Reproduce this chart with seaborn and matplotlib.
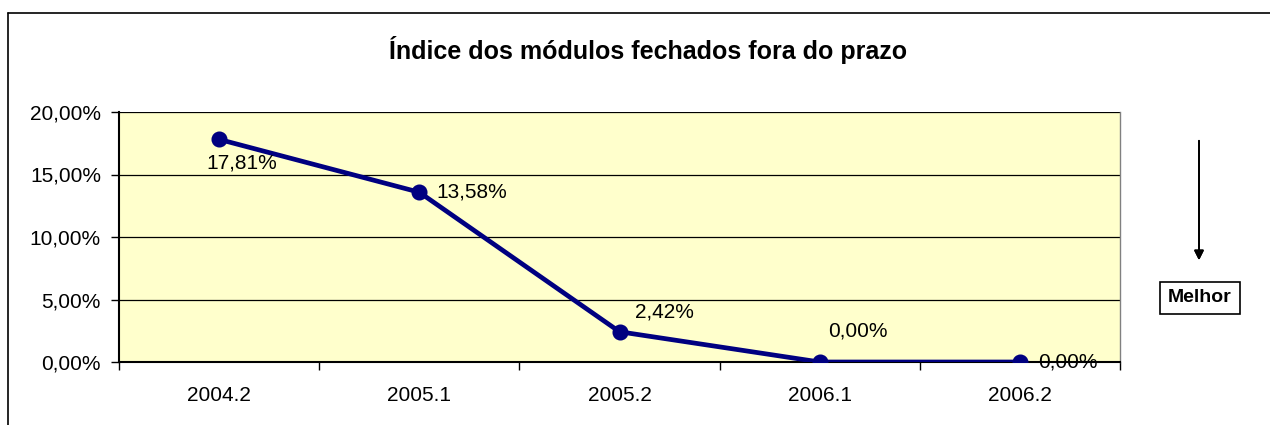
import matplotlib
matplotlib.use("Agg")
import matplotlib.pyplot as plt
import seaborn as sns
import pandas as pd
from matplotlib.ticker import FixedLocator, FuncFormatter
from matplotlib.lines import Line2D

# Data
semestres = ["2004.2", "2005.1", "2005.2", "2006.1", "2006.2"]
indice = [0.1781, 0.1358, 0.0242, 0.0000, 0.0000]
rotulos = ["17,81%", "13,58%", "2,42%", "0,00%", "0,00%"]
yticks = [0.0, 0.05, 0.10, 0.15, 0.20]

sns.set_style("white")
plt.rcParams["font.family"] = ["Liberation Sans", "DejaVu Sans"]
plt.rcParams["text.color"] = "black"
plt.rcParams["xtick.color"] = "black"
plt.rcParams["ytick.color"] = "black"
plt.rcParams["axes.labelcolor"] = "black"

df = pd.DataFrame({"semestre": semestres, "indice": indice})

fig = plt.figure(figsize=(12.7, 4.25), dpi=100)
ax = fig.add_axes([119 / 1270, 1 - 362 / 425, 1001 / 1270, 250 / 425])
ax.set_facecolor("#FFFFCC")

sns.pointplot(data=df, x="semestre", y="indice", color="#000080",
              markers="o", markersize=9, linewidth=3.4, ax=ax, zorder=3)

ax.set_xlim(-0.5, 4.5)
ax.set_ylim(0, 0.20)
ax.set_xlabel("")
ax.set_ylabel("")

# gridlines
ax.yaxis.set_major_locator(FixedLocator(yticks))
ax.yaxis.set_major_formatter(FuncFormatter(lambda v, p: f"{v*100:.2f}%".replace(".", ",")))
for v in yticks[1:]:
    ax.axhline(v, color="black", lw=0.9, zorder=1)

ax.tick_params(axis="y", which="major", direction="out", length=6, width=1,
               color="black", labelsize=15, pad=7, left=True)
ax.tick_params(axis="x", which="major", length=0, labelsize=15, pad=17)
ax.xaxis.set_minor_locator(FixedLocator([i - 0.5 for i in range(len(semestres) + 1)]))
ax.tick_params(axis="x", which="minor", direction="out", length=6, width=1,
               color="black", bottom=True)

for s in ["left", "bottom"]:
    ax.spines[s].set_color("black")
    ax.spines[s].set_linewidth(1.5)
ax.spines["top"].set_visible(False)
ax.spines["right"].set_color("#808080")
ax.spines["right"].set_linewidth(1)

# data labels
offsets = [(-13, -24, "left"), (17, 0, "left"), (16, 20, "left"),
           (8, 31, "left"), (18, 0, "left")]
for i, (txt, (dx, dy, ha)) in enumerate(zip(rotulos, offsets)):
    ax.annotate(txt, (i, indice[i]), xytext=(dx, dy), textcoords="offset pixels",
                ha=ha, va="center", fontsize=15, color="black", zorder=4,
                annotation_clip=False)

# title
fig.text(648 / 1270, 1 - 50 / 425, "Índice dos módulos fechados fora do prazo",
         ha="center", va="center", fontsize=18, fontweight="bold", color="black")

# outer frame (left and top)
fig.add_artist(Line2D([8 / 1270, 8 / 1270], [0, 1 - 13 / 425], transform=fig.transFigure,
                      color="black", lw=1.2))
fig.add_artist(Line2D([8 / 1270, 1], [1 - 13 / 425, 1 - 13 / 425], transform=fig.transFigure,
                      color="black", lw=1.2))

# arrow and "Melhor" box
fig.add_artist(plt.annotate("", xy=(1199 / 1270, 1 - 263 / 425), xytext=(1199 / 1270, 1 - 138 / 425),
                            xycoords="figure fraction", textcoords="figure fraction",
                            arrowprops=dict(arrowstyle="-|>", color="black", lw=1.3,
                                            mutation_scale=14)))
fig.text(1200 / 1270, 1 - 298 / 425, "Melhor", ha="center", va="center",
         fontsize=14, fontweight="bold", color="black",
         bbox=dict(boxstyle="square,pad=0.4", facecolor="white", edgecolor="black", lw=1.2))

fig.savefig("out.png", dpi=100)
